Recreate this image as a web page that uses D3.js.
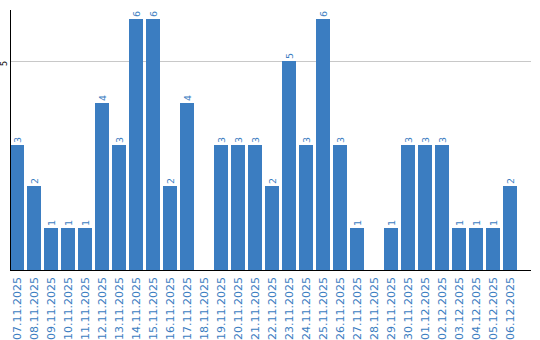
<!DOCTYPE html>
<html>
<head>
<meta charset="utf-8">
<script src="https://cdn.jsdelivr.net/npm/d3@7"></script>
<style>
body { margin: 0; background: #fff; }
svg { display: block; font-family: "DejaVu Sans", Verdana, sans-serif; }
</style>
</head>
<body>
<svg width="540" height="340"></svg>
<script>
var dates = ["07.11.2025","08.11.2025","09.11.2025","10.11.2025","11.11.2025","12.11.2025",
  "13.11.2025","14.11.2025","15.11.2025","16.11.2025","17.11.2025","18.11.2025",
  "19.11.2025","20.11.2025","21.11.2025","22.11.2025","23.11.2025","24.11.2025",
  "25.11.2025","26.11.2025","27.11.2025","28.11.2025","29.11.2025","30.11.2025",
  "01.12.2025","02.12.2025","03.12.2025","04.12.2025","05.12.2025","06.12.2025"];
var counts = [3,2,1,1,1,4,3,6,6,2,4,0,3,3,3,2,5,3,6,3,1,0,1,3,3,3,1,1,1,2];
var yTicks = [5];

var svg = d3.select("svg");

var blue = "#3b7dc1";

var x = d3.scaleBand()
    .domain(dates)
    .range([10, 517])
    .paddingInner(3 / 17)
    .paddingOuter(0);

var y = d3.scaleLinear()
    .domain([0, 5])
    .range([270, 61]);

var rows = dates.map(function(d, i) { return {date: d, value: counts[i]}; });

// grid line
svg.selectAll("line.grid")
  .data(yTicks)
  .enter().append("line")
    .attr("class", "grid")
    .attr("x1", 10)
    .attr("x2", 531)
    .attr("y1", function(d) { return Math.round(y(d)) + 0.5; })
    .attr("y2", function(d) { return Math.round(y(d)) + 0.5; })
    .attr("stroke", "#c8c8c8");

// y tick labels
svg.selectAll("text.ytick")
  .data(yTicks)
  .enter().append("text")
    .attr("class", "ytick")
    .attr("transform", function(d) { return "translate(7," + (y(d) + 2.5) + ") rotate(-90)"; })
    .attr("text-anchor", "middle")
    .attr("font-size", 8)
    .attr("fill", "#000")
    .text(function(d) { return d; });

// bars
svg.selectAll("rect.bar")
  .data(rows)
  .enter().append("rect")
    .attr("class", "bar")
    .attr("x", function(d) { return Math.round(x(d.date)); })
    .attr("width", Math.round(x.bandwidth()))
    .attr("y", function(d) { return Math.round(y(d.value)); })
    .attr("height", function(d) { return 270 - Math.round(y(d.value)); })
    .attr("fill", blue);

// value labels
svg.selectAll("text.val")
  .data(rows.filter(function(d) { return d.value > 0; }))
  .enter().append("text")
    .attr("class", "val")
    .attr("transform", function(d) {
      return "translate(" + (x(d.date) + x.bandwidth() / 2 + 3.5) + "," + (Math.round(y(d.value)) - 2) + ") rotate(-90)";
    })
    .attr("text-anchor", "start")
    .attr("font-size", 9.5)
    .attr("fill", blue)
    .text(function(d) { return d.value; });

// x labels
svg.selectAll("text.xlab")
  .data(dates)
  .enter().append("text")
    .attr("class", "xlab")
    .attr("transform", function(d) { return "translate(" + (x(d) + x.bandwidth() / 2 + 4) + ",277) rotate(-90)"; })
    .attr("text-anchor", "end")
    .attr("font-size", 11)
    .attr("fill", blue)
    .text(function(d) { return d; });

// axes lines
svg.append("line")
    .attr("x1", 10.5).attr("x2", 10.5)
    .attr("y1", 10).attr("y2", 271)
    .attr("stroke", "#000");
svg.append("line")
    .attr("x1", 10).attr("x2", 531)
    .attr("y1", 270.5).attr("y2", 270.5)
    .attr("stroke", "#000");
</script>
</body>
</html>
